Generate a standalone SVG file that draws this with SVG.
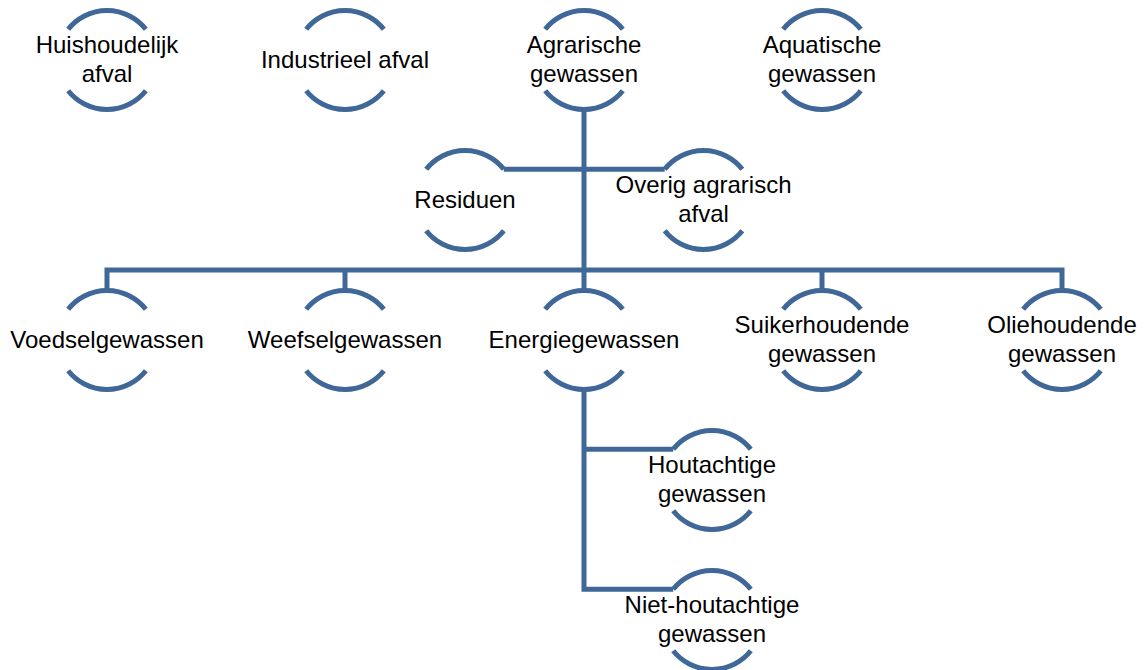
<svg xmlns="http://www.w3.org/2000/svg" xmlns:xlink="http://www.w3.org/1999/xlink" width="1144" height="670" viewBox="0 0 1144 670">
<style>
.ring{fill:none;stroke:#3F6797;stroke-width:5}
.conn{fill:none;stroke:#3F6797;stroke-width:5;stroke-linejoin:miter}
text{font-family:"Liberation Sans",Arial,sans-serif;font-size:24px;fill:#000;text-anchor:middle}
</style>
<defs>
<path id="ring" class="ring" d="M-38.8,-30.7 A49.5,49.5 0 0 1 38.8,-30.7 M-38.8,30.7 A49.5,49.5 0 0 0 38.8,30.7"/>
</defs>
<rect width="1144" height="670" fill="#fff"/>
<g id="connectors">
<path class="conn" d="M584,109.5 V290.5"/>
<path class="conn" d="M503.8,169.3 H664.7"/>
<path class="conn" d="M107,290.5 V270 H1062 V290.5"/>
<path class="conn" d="M345,270 V290.5"/>
<path class="conn" d="M822,270 V290.5"/>
<path class="conn" d="M584,389.5 V589.3 H673.2"/>
<path class="conn" d="M584,449.3 H673.2"/>
</g>
<g id="n-huishoudelijk"><use href="#ring" x="107" y="60"/><text x="107" y="53">Huishoudelijk</text><text x="107" y="82">afval</text></g>
<g id="n-industrieel"><use href="#ring" x="345" y="60"/><text x="345" y="68">Industrieel afval</text></g>
<g id="n-agrarische"><use href="#ring" x="584" y="60"/><text x="584" y="53">Agrarische</text><text x="584" y="82">gewassen</text></g>
<g id="n-aquatische"><use href="#ring" x="822" y="60"/><text x="822" y="53">Aquatische</text><text x="822" y="82">gewassen</text></g>
<g id="n-residuen"><use href="#ring" x="465" y="200"/><text x="465" y="208">Residuen</text></g>
<g id="n-overig"><use href="#ring" x="703.5" y="200"/><text x="703.5" y="193">Overig agrarisch</text><text x="703.5" y="222">afval</text></g>
<g id="n-voedsel"><use href="#ring" x="107" y="340"/><text x="107" y="348">Voedselgewassen</text></g>
<g id="n-weefsel"><use href="#ring" x="345" y="340"/><text x="345" y="348">Weefselgewassen</text></g>
<g id="n-energie"><use href="#ring" x="584" y="340"/><text x="584" y="348">Energiegewassen</text></g>
<g id="n-suiker"><use href="#ring" x="822" y="340"/><text x="822" y="333">Suikerhoudende</text><text x="822" y="362">gewassen</text></g>
<g id="n-olie"><use href="#ring" x="1062" y="340"/><text x="1062" y="333">Oliehoudende</text><text x="1062" y="362">gewassen</text></g>
<g id="n-hout"><use href="#ring" x="712" y="480"/><text x="712" y="473">Houtachtige</text><text x="712" y="502">gewassen</text></g>
<g id="n-niethout"><use href="#ring" x="712" y="620"/><text x="712" y="613">Niet-houtachtige</text><text x="712" y="642">gewassen</text></g>
</svg>
